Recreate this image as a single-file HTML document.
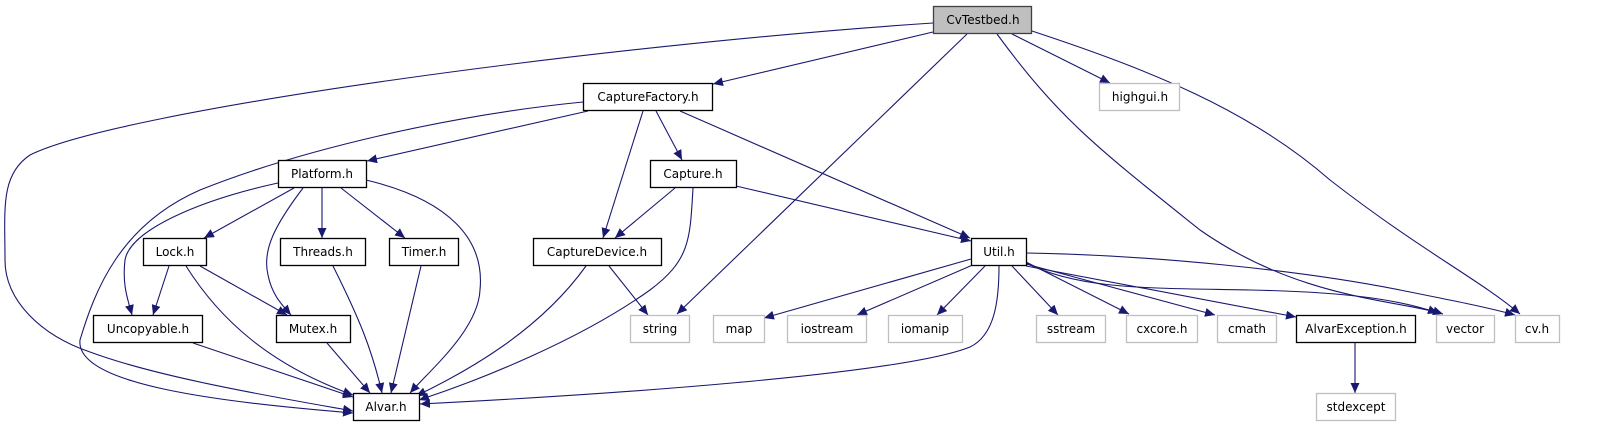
<!DOCTYPE html>
<html><head><meta charset="utf-8"><style>
html,body{margin:0;padding:0;background:#fff;}
svg{display:block;}
text{font-family:"DejaVu Sans","Liberation Sans",sans-serif;font-size:12px;fill:#000;}
</style></head><body>
<svg width="1607" height="427" viewBox="0 0 1607 427" xmlns="http://www.w3.org/2000/svg">
<defs>
<marker id="a" markerWidth="11" markerHeight="9" refX="10" refY="4.5" orient="auto" markerUnits="userSpaceOnUse">
<path d="M0,0 L10,4.5 L0,9 z" fill="#191970"/>
</marker>
</defs>
<g fill="none" stroke="#191970" stroke-width="1.1" marker-end="url(#a)">
<!-- CvTestbed -->
<path d="M933,23 C600,45 120,110 30,155 C0,175 5,210 5,260 C5,300 40,335 90,352 C160,378 280,398 353,411"/>
<path d="M933,32 L713,84"/>
<path d="M967,34 L677,314"/>
<path d="M997,34 C1060,120 1100,150 1200,230 C1300,300 1400,300 1443,314"/>
<path d="M1012,34 L1110,83"/>
<path d="M1032,31 C1150,70 1250,110 1330,180 C1420,250 1480,280 1520,314"/>
<!-- CaptureFactory -->
<path d="M583,102 C450,115 300,150 200,190 C120,225 95,290 80,340 C75,385 220,402 353,413"/>
<path d="M588,111 L367,161"/>
<path d="M643,111 L603,238"/>
<path d="M656,111 L682,160"/>
<path d="M680,111 L970,238"/>
<!-- Platform -->
<path d="M278,183 C200,200 130,230 125,260 C122,285 128,300 132,315"/>
<path d="M294,188 L204,238"/>
<path d="M303,188 C275,225 262,250 268,275 C272,295 282,305 291,315"/>
<path d="M322,188 L322,238"/>
<path d="M341,188 L405,238"/>
<path d="M366,180 C450,200 485,240 480,290 C478,330 430,370 410,393"/>
<!-- Lock -->
<path d="M169,266 L153,315"/>
<path d="M200,266 L287,315"/>
<path d="M186,266 C220,320 270,365 353,395"/>
<!-- Threads / Timer -->
<path d="M333,266 C360,320 372,350 382,393"/>
<path d="M421,266 L391,393"/>
<!-- Uncopyable / Mutex -->
<path d="M193,343 L353,397"/>
<path d="M327,343 L370,393"/>
<!-- CaptureDevice -->
<path d="M586,266 C540,330 470,370 416,396"/>
<path d="M609,266 L648,315"/>
<!-- Capture -->
<path d="M675,188 L615,238"/>
<path d="M693,188 C690,240 690,260 650,290 C580,340 480,380 419,400"/>
<path d="M736,186 L971,241"/>
<!-- Util -->
<path d="M999,266 C999,300 995,335 970,347 C900,375 600,395 420,404"/>
<path d="M971,259 L764,318"/>
<path d="M975,264 L857,315"/>
<path d="M985,266 L937,315"/>
<path d="M1012,266 L1058,315"/>
<path d="M1026,262 L1129,314"/>
<path d="M1026,264 L1215,315"/>
<path d="M1026,266 L1296,317"/>
<path d="M1026,263 C1080,290 1150,288 1250,290 C1350,292 1400,300 1438,313"/>
<path d="M1026,253 C1150,255 1300,270 1400,290 C1460,302 1490,308 1515,315"/>
<!-- AlvarException -->
<path d="M1355,343 L1355,393"/>
</g>
<g stroke-width="1.3">
<rect x="933.5" y="6.5" width="98" height="27" fill="#bfbfbf" stroke="#404040"/>
<rect x="583.5" y="83.5" width="129" height="27" fill="#fff" stroke="#000"/>
<rect x="1099.5" y="83.5" width="80" height="27" fill="#fff" stroke="#bfbfbf"/>
<rect x="278.5" y="160.5" width="88" height="27" fill="#fff" stroke="#000"/>
<rect x="650.5" y="160.5" width="86" height="27" fill="#fff" stroke="#000"/>
<rect x="143.5" y="238.5" width="63" height="27" fill="#fff" stroke="#000"/>
<rect x="280.5" y="238.5" width="85" height="27" fill="#fff" stroke="#000"/>
<rect x="389.5" y="238.5" width="69" height="27" fill="#fff" stroke="#000"/>
<rect x="533.5" y="238.5" width="128" height="27" fill="#fff" stroke="#000"/>
<rect x="971.5" y="238.5" width="55" height="27" fill="#fff" stroke="#000"/>
<rect x="93.5" y="315.5" width="109" height="27" fill="#fff" stroke="#000"/>
<rect x="276.5" y="315.5" width="74" height="27" fill="#fff" stroke="#000"/>
<rect x="630.5" y="315.5" width="59" height="27" fill="#fff" stroke="#bfbfbf"/>
<rect x="713.5" y="315.5" width="51" height="27" fill="#fff" stroke="#bfbfbf"/>
<rect x="787.5" y="315.5" width="79" height="27" fill="#fff" stroke="#bfbfbf"/>
<rect x="888.5" y="315.5" width="74" height="27" fill="#fff" stroke="#bfbfbf"/>
<rect x="1036.5" y="315.5" width="69" height="27" fill="#fff" stroke="#bfbfbf"/>
<rect x="1126.5" y="315.5" width="71" height="27" fill="#fff" stroke="#bfbfbf"/>
<rect x="1217.5" y="315.5" width="59" height="27" fill="#fff" stroke="#bfbfbf"/>
<rect x="1296.5" y="315.5" width="119" height="27" fill="#fff" stroke="#000"/>
<rect x="1436.5" y="315.5" width="58" height="27" fill="#fff" stroke="#bfbfbf"/>
<rect x="1515.5" y="315.5" width="44" height="27" fill="#fff" stroke="#bfbfbf"/>
<rect x="353.5" y="393.5" width="66" height="27" fill="#fff" stroke="#000"/>
<rect x="1316.5" y="393.5" width="79" height="27" fill="#fff" stroke="#bfbfbf"/>
</g>
<g text-anchor="middle">
<text x="983" y="24">CvTestbed.h</text>
<text x="648" y="101">CaptureFactory.h</text>
<text x="1140" y="101">highgui.h</text>
<text x="322" y="178">Platform.h</text>
<text x="693" y="178">Capture.h</text>
<text x="175" y="256">Lock.h</text>
<text x="323" y="256">Threads.h</text>
<text x="424" y="256">Timer.h</text>
<text x="597" y="256">CaptureDevice.h</text>
<text x="999" y="256">Util.h</text>
<text x="148" y="333">Uncopyable.h</text>
<text x="313" y="333">Mutex.h</text>
<text x="660" y="333">string</text>
<text x="739" y="333">map</text>
<text x="827" y="333">iostream</text>
<text x="925" y="333">iomanip</text>
<text x="1071" y="333">sstream</text>
<text x="1162" y="333">cxcore.h</text>
<text x="1247" y="333">cmath</text>
<text x="1356" y="333">AlvarException.h</text>
<text x="1465" y="333">vector</text>
<text x="1537" y="333">cv.h</text>
<text x="386" y="411">Alvar.h</text>
<text x="1356" y="411">stdexcept</text>
</g>
</svg>
</body></html>
